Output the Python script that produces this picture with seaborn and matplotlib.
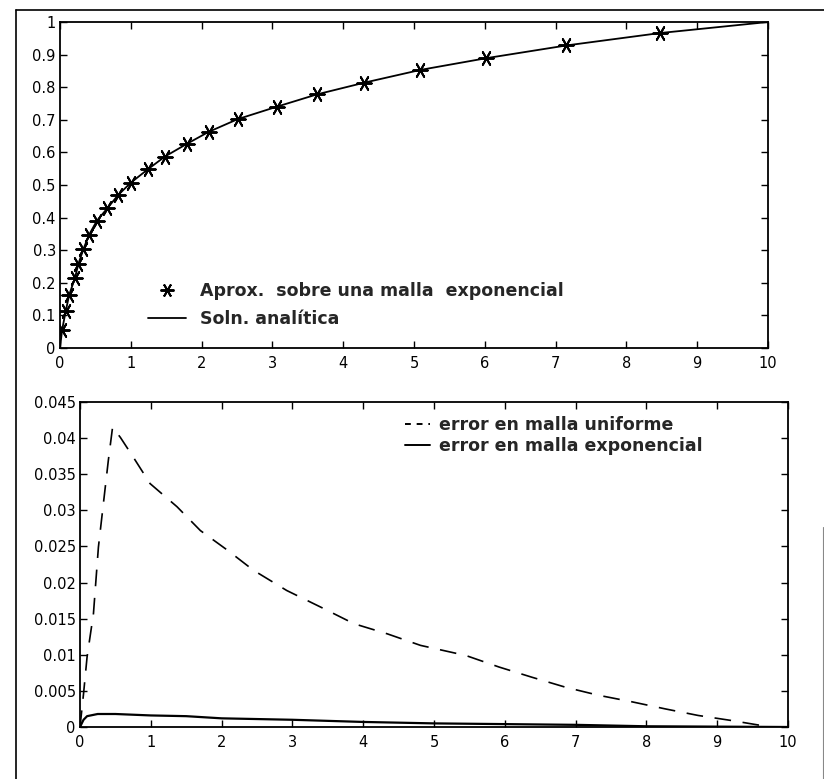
import numpy as np
import pandas as pd
import matplotlib
matplotlib.use('Agg')
import matplotlib.pyplot as plt
from matplotlib.lines import Line2D
import seaborn as sns

# aproximacion sobre malla exponencial (marcadores)
x_aprox = [0.03, 0.08, 0.13, 0.21, 0.26, 0.33, 0.41, 0.52, 0.67, 0.82, 1.0, 1.24, 1.48,
           1.79, 2.10, 2.51, 3.06, 3.63, 4.30, 5.09, 6.02, 7.15, 8.47]
y_aprox = [0.056, 0.112, 0.163, 0.214, 0.258, 0.303, 0.347, 0.390, 0.429, 0.469, 0.507,
           0.548, 0.587, 0.626, 0.663, 0.702, 0.740, 0.778, 0.814, 0.853, 0.889, 0.928, 0.966]
# solucion analitica
x_anal = [0.0] + x_aprox + [10.0]
y_anal = [0.0] + y_aprox + [1.0]

# errores
x_unif = [0.0, 0.05, 0.10, 0.19, 0.26, 0.33, 0.40, 0.46, 0.57, 0.75, 0.99, 1.37, 1.70, 2.08,
          2.45, 2.92, 3.40, 3.87, 4.34, 4.81, 5.45, 5.92, 6.38, 6.86, 7.32, 7.79, 8.27,
          8.73, 9.20, 9.75]
e_unif = [0.0, 0.0046, 0.0097, 0.0157, 0.0249, 0.0309, 0.0369, 0.0415, 0.0401, 0.0374,
          0.0337, 0.0305, 0.0272, 0.0245, 0.0217, 0.0189, 0.0166, 0.0143, 0.0129, 0.0113,
          0.0099, 0.0083, 0.0069, 0.0055, 0.0044, 0.0035, 0.0025, 0.0016, 0.0009, 0.0]
x_expo = [0.0, 0.05, 0.10, 0.25, 0.5, 1.0, 1.5, 2.0, 3.0, 4.0, 5.0, 6.0, 7.0, 8.0, 9.0, 10.0]
e_expo = [0.0, 0.0010, 0.0015, 0.0018, 0.0018, 0.0016, 0.0015, 0.0012, 0.0010, 0.0007,
          0.0005, 0.0004, 0.0003, 0.0001, 0.00005, 0.0]

xticks = list(range(11))
yticks_top = [0, 0.1, 0.2, 0.3, 0.4, 0.5, 0.6, 0.7, 0.8, 0.9, 1]
ylabels_top = ['0', '0.1', '0.2', '0.3', '0.4', '0.5', '0.6', '0.7', '0.8', '0.9', '1']
yticks_bot = [0, 0.005, 0.01, 0.015, 0.02, 0.025, 0.03, 0.035, 0.04, 0.045]
ylabels_bot = ['0', '0.005', '0.01', '0.015', '0.02', '0.025', '0.03', '0.035', '0.04', '0.045']

sns.set_style('ticks')
plt.rcParams['font.family'] = ['DejaVu Sans']
plt.rcParams['xtick.direction'] = 'in'
plt.rcParams['ytick.direction'] = 'in'

W, H = 824, 779
fig = plt.figure(figsize=(W / 100, H / 100), dpi=100)

def box(l, t, r, b):
    return [l / W, 1 - b / H, (r - l) / W, (b - t) / H]

ax1 = fig.add_axes(box(60, 22, 768, 348))
ax2 = fig.add_axes(box(80, 402, 788, 727))

star = (6, 2, 90)
sns.lineplot(x=x_anal, y=y_anal, ax=ax1, color='black', lw=1.3, sort=False)
sns.scatterplot(x=x_aprox, y=y_aprox, ax=ax1, marker=star, s=110, color='black',
                linewidth=1.4, edgecolor='black')

sns.lineplot(x=x_unif, y=e_unif, ax=ax2, color='black', lw=1.2, sort=False,
             linestyle=(0, (10, 7)))
sns.lineplot(x=x_expo, y=e_expo, ax=ax2, color='black', lw=1.6, sort=False)

for ax, yt, yl, ylim in [(ax1, yticks_top, ylabels_top, (0, 1)),
                         (ax2, yticks_bot, ylabels_bot, (0, 0.045))]:
    ax.set_xlim(0, 10)
    ax.set_ylim(*ylim)
    ax.set_xticks(xticks)
    ax.set_xticklabels([str(v) for v in xticks])
    ax.set_yticks(yt)
    ax.set_yticklabels(yl)
    ax.tick_params(axis='both', which='both', top=True, right=True, length=5,
                   width=1, labelsize=10.5, colors='black')
    ax.tick_params(axis='x', pad=6)
    ax.tick_params(axis='y', pad=3)
    for sp in ax.spines.values():
        sp.set_visible(True)
        sp.set_linewidth(1.3)
        sp.set_color('black')

h1 = [Line2D([], [], ls='none', marker=star, ms=10, mew=1.4, color='black'),
      Line2D([], [], color='black', lw=1.3)]
ax1.legend(h1, ['Aprox.  sobre una malla  exponencial', 'Soln. analítica'],
           loc='upper left', bbox_to_anchor=(139 / W, 1 - 273 / H),
           bbox_transform=fig.transFigure, frameon=False, borderpad=0,
           handlelength=2.2, handletextpad=0.8, labelspacing=0.6,
           prop={'weight': 'bold', 'size': 12.5})

h2 = [Line2D([], [], color='black', lw=1.4, dashes=(3, 3)),
      Line2D([], [], color='black', lw=1.4)]
ax2.legend(h2, ['error en malla uniforme', 'error en malla exponencial'],
           loc='upper left', bbox_to_anchor=(396 / W, 1 - 407 / H),
           bbox_transform=fig.transFigure, frameon=False, borderpad=0,
           handlelength=1.45, handletextpad=0.5, labelspacing=0.22,
           prop={'weight': 'bold', 'size': 12.5})

# marco del documento escaneado
fig.add_artist(Line2D([16 / W, 16 / W], [0, 1 - 10 / H], color='black', lw=1.2,
                      transform=fig.transFigure))
fig.add_artist(Line2D([16 / W, 1], [1 - 10 / H, 1 - 10 / H], color='black', lw=1.2,
                      transform=fig.transFigure))
fig.add_artist(Line2D([823 / W, 823 / W], [0, 1 - 527 / H], color='#888888', lw=0.8,
                      transform=fig.transFigure))

fig.savefig('out.png', dpi=100)
